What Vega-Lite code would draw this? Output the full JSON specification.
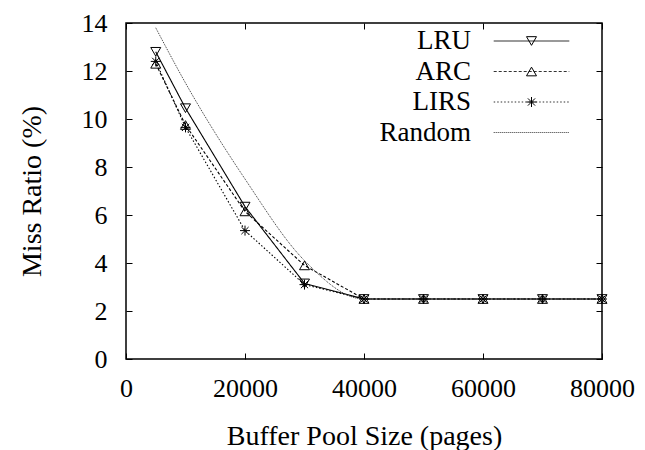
{
  "$schema": "https://vega.github.io/schema/vega-lite/v6.json",
  "width": 476,
  "height": 336,
  "autosize": {"type": "none"},
  "padding": {"left": 126, "top": 23, "right": 43, "bottom": 91},
  "background": "white",
  "config": {
    "font": "Liberation Serif",
    "view": {"stroke": "#000", "strokeWidth": 1.5},
    "axis": {
      "grid": false,
      "domain": false,
      "tickColor": "#000",
      "tickSize": -6,
      "tickWidth": 1,
      "labelColor": "#000",
      "labelFontSize": 26,
      "labelFlush": false,
      "labelOverlap": false,
      "titleColor": "#000",
      "titleFontSize": 28,
      "titleFontWeight": "normal"
    },
    "legend": {
      "labelFont": "Liberation Serif",
      "labelColor": "#000",
      "labelFontSize": 27
    }
  },
  "data": {
    "values": [
      {"size": 5000, "ratio": 12.8, "policy": "LRU"},
      {"size": 10000, "ratio": 10.45, "policy": "LRU"},
      {"size": 20000, "ratio": 6.35, "policy": "LRU"},
      {"size": 30000, "ratio": 3.15, "policy": "LRU"},
      {"size": 40000, "ratio": 2.5, "policy": "LRU"},
      {"size": 50000, "ratio": 2.5, "policy": "LRU"},
      {"size": 60000, "ratio": 2.5, "policy": "LRU"},
      {"size": 70000, "ratio": 2.5, "policy": "LRU"},
      {"size": 80000, "ratio": 2.5, "policy": "LRU"},
      {"size": 5000, "ratio": 12.3, "policy": "ARC"},
      {"size": 10000, "ratio": 9.75, "policy": "ARC"},
      {"size": 20000, "ratio": 6.15, "policy": "ARC"},
      {"size": 30000, "ratio": 3.9, "policy": "ARC"},
      {"size": 40000, "ratio": 2.5, "policy": "ARC"},
      {"size": 50000, "ratio": 2.5, "policy": "ARC"},
      {"size": 60000, "ratio": 2.5, "policy": "ARC"},
      {"size": 70000, "ratio": 2.5, "policy": "ARC"},
      {"size": 80000, "ratio": 2.5, "policy": "ARC"},
      {"size": 5000, "ratio": 12.4, "policy": "LIRS"},
      {"size": 10000, "ratio": 9.65, "policy": "LIRS"},
      {"size": 20000, "ratio": 5.35, "policy": "LIRS"},
      {"size": 30000, "ratio": 3.1, "policy": "LIRS"},
      {"size": 40000, "ratio": 2.5, "policy": "LIRS"},
      {"size": 50000, "ratio": 2.5, "policy": "LIRS"},
      {"size": 60000, "ratio": 2.5, "policy": "LIRS"},
      {"size": 70000, "ratio": 2.5, "policy": "LIRS"},
      {"size": 80000, "ratio": 2.5, "policy": "LIRS"},
      {"size": 5000, "ratio": 13.8, "policy": "Random"},
      {"size": 10000, "ratio": 11.5, "policy": "Random"},
      {"size": 20000, "ratio": 7.5, "policy": "Random"},
      {"size": 30000, "ratio": 4.1, "policy": "Random"},
      {"size": 40000, "ratio": 2.5, "policy": "Random"},
      {"size": 50000, "ratio": 2.5, "policy": "Random"},
      {"size": 60000, "ratio": 2.5, "policy": "Random"},
      {"size": 70000, "ratio": 2.5, "policy": "Random"},
      {"size": 80000, "ratio": 2.5, "policy": "Random"}
    ]
  },
  "layer": [
    {
      "transform": [{"filter": "datum.policy !== 'Random'"}],
      "mark": {"type": "line", "color": "#000", "strokeWidth": 1.1},
      "encoding": {
        "x": {
          "field": "size", "type": "quantitative",
          "scale": {"domain": [0, 80000], "nice": false, "zero": false},
          "axis": {
            "orient": "bottom",
            "values": [0, 20000, 40000, 60000, 80000],
            "format": "d",
            "labelPadding": 22,
            "title": "Buffer Pool Size (pages)",
            "titlePadding": 21
          }
        },
        "y": {
          "field": "ratio", "type": "quantitative",
          "scale": {"domain": [0, 14], "nice": false},
          "axis": {
            "orient": "left",
            "values": [0, 2, 4, 6, 8, 10, 12, 14],
            "labelPadding": 25,
            "title": "Miss Ratio (%)",
            "titlePadding": 35
          }
        },
        "strokeDash": {
          "field": "policy", "type": "nominal",
          "scale": {
            "domain": ["LRU", "ARC", "LIRS", "Random"],
            "range": [[1, 0], [3, 2], [1.5, 2], [1, 1]]
          },
          "legend": {
            "orient": "none",
            "legendX": 392,
            "legendY": 4.5,
            "title": null,
            "padding": 0,
            "symbolType": "M-7.56,0H7.56",
            "symbolSize": 100,
            "symbolStrokeWidth": 1.1,
            "symbolStrokeColor": "#000",
            "labelAlign": "right",
            "labelOffset": -74,
            "rowPadding": 2.5
          }
        }
      }
    },
    {
      "transform": [{"filter": "datum.policy === 'Random'"}],
      "mark": {"type": "line", "color": "#333", "strokeWidth": 1, "interpolate": "monotone"},
      "encoding": {
        "x": {"field": "size", "type": "quantitative", "axis": null},
        "y": {"field": "ratio", "type": "quantitative", "axis": null},
        "strokeDash": {"field": "policy", "type": "nominal"}
      }
    },
    {
      "transform": [{"filter": "datum.policy !== 'Random'"}],
      "mark": {"type": "point", "filled": false, "stroke": "#000", "strokeWidth": 1, "size": 100, "opacity": 1},
      "encoding": {
        "x": {
          "field": "size", "type": "quantitative",
          "axis": {"orient": "top", "values": [0, 20000, 40000, 60000, 80000], "labels": false, "title": null}
        },
        "y": {
          "field": "ratio", "type": "quantitative",
          "axis": {"orient": "right", "values": [0, 2, 4, 6, 8, 10, 12, 14], "labels": false, "title": null}
        },
        "shape": {
          "field": "policy", "type": "nominal",
          "scale": {
            "domain": ["LRU", "ARC", "LIRS"],
            "range": ["triangle-down", "triangle-up", "M-1,0H1M0,-1V1M-0.72,-0.72L0.72,0.72M-0.72,0.72L0.72,-0.72"]
          },
          "legend": {
            "orient": "none",
            "legendX": 392,
            "legendY": 4.5,
            "title": null,
            "padding": 0,
            "symbolSize": 100,
            "symbolStrokeWidth": 1,
            "symbolStrokeColor": "#000",
            "symbolFillColor": "transparent",
            "labelAlign": "right",
            "labelOffset": -74,
            "labelOpacity": 0,
            "rowPadding": 2.5
          }
        }
      }
    }
  ]
}
